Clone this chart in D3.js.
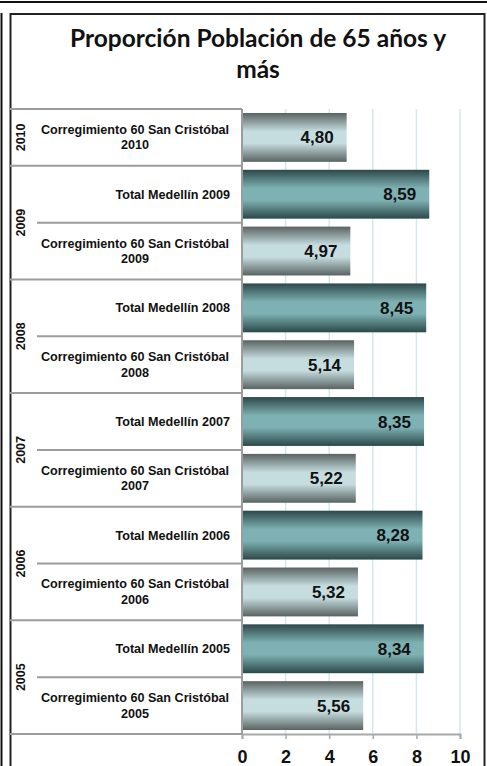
<!DOCTYPE html>
<meta charset="utf-8">
<style>
body { margin: 0; background: #fff; }
.cat { font: bold 12.6px "Liberation Sans", Arial, sans-serif; fill: #111; }
.year { font: bold 12.5px "Liberation Sans", Arial, sans-serif; fill: #111; }
.val { font: bold 17px "Liberation Sans", Arial, sans-serif; fill: #111; }
.title { font: bold 24.5px Lato, "Open Sans", sans-serif; fill: #111; }
.axis text { font: bold 18px "Liberation Sans", Arial, sans-serif; fill: #111; }
.sep { stroke: #9c9c9c; stroke-width: 2px; }
</style>
<svg width="487" height="766"></svg>
<script src="https://cdn.jsdelivr.net/npm/d3@7/dist/d3.min.js"></script>
<script>
var width = 487, height = 766;

// rows from top to bottom
var labels = [
  ["Corregimiento 60 San Cristóbal", "2010"],
  ["Total Medellín 2009"],
  ["Corregimiento 60 San Cristóbal", "2009"],
  ["Total Medellín 2008"],
  ["Corregimiento 60 San Cristóbal", "2008"],
  ["Total Medellín 2007"],
  ["Corregimiento 60 San Cristóbal", "2007"],
  ["Total Medellín 2006"],
  ["Corregimiento 60 San Cristóbal", "2006"],
  ["Total Medellín 2005"],
  ["Corregimiento 60 San Cristóbal", "2005"]
];
var series = ["correg","total","correg","total","correg","total","correg","total","correg","total","correg"];
var values = [4.80, 8.59, 4.97, 8.45, 5.14, 8.35, 5.22, 8.28, 5.32, 8.34, 5.56];
var years = ["2010", "2009", "2008", "2007", "2006", "2005"];
var yearRows = [[0, 0], [1, 2], [3, 4], [5, 6], [7, 8], [9, 10]]; // first/last row of each year
var xTicks = [0, 2, 4, 6, 8, 10];

var svg = d3.select("svg");

var es = d3.formatLocale({decimal: ",", thousands: ".", grouping: [3], currency: ["", ""]});
var fmt = es.format(".2f");

var x = d3.scaleLinear().domain([0, 10]).range([242, 460]);
var y = d3.scaleBand().domain(d3.range(values.length))
    .range([109, 734]).paddingInner(0.14).paddingOuter(0.07);

// gradients
var defs = svg.append("defs");
function grad(id, edge, mid) {
  var g = defs.append("linearGradient").attr("id", id)
      .attr("x1", 0).attr("y1", 0).attr("x2", 0).attr("y2", 1);
  g.append("stop").attr("offset", "0%").attr("stop-color", edge);
  g.append("stop").attr("offset", "38%").attr("stop-color", mid);
  g.append("stop").attr("offset", "62%").attr("stop-color", mid);
  g.append("stop").attr("offset", "100%").attr("stop-color", edge);
}
grad("g-correg", "#596361", "#c6dde0");
grad("g-total", "#2c4849", "#7eb1b3");

// outer page bits
svg.append("line").attr("x1", 0).attr("x2", width).attr("y1", 2).attr("y2", 2)
    .attr("stroke", "#111").attr("stroke-width", 2);
svg.append("line").attr("x1", 1.5).attr("x2", 1.5).attr("y1", 13).attr("y2", height)
    .attr("stroke", "#111").attr("stroke-width", 2);

// chart frame
svg.append("rect").attr("x", 10.5).attr("y", 14).attr("width", 474).attr("height", 800)
    .attr("fill", "#fff").attr("stroke", "#222").attr("stroke-width", 2);

// title
svg.append("text").attr("class", "title").attr("x", 258).attr("y", 47)
    .attr("text-anchor", "middle").text("Proporción Población de 65 años y");
svg.append("text").attr("class", "title").attr("x", 258).attr("y", 78)
    .attr("text-anchor", "middle").text("más");

// gridlines
svg.selectAll(".grid").data(xTicks.slice(1)).enter().append("line")
    .attr("x1", function(d) { return x(d); }).attr("x2", function(d) { return x(d); })
    .attr("y1", 109).attr("y2", 734)
    .attr("stroke", "#d6e7ec").attr("stroke-width", 1.5);

// bars
svg.selectAll(".bar").data(values).enter().append("rect")
    .attr("x", x(0))
    .attr("y", function(d, i) { return y(i); })
    .attr("width", function(d) { return x(d) - x(0); })
    .attr("height", y.bandwidth())
    .attr("fill", function(d, i) { return "url(#g-" + series[i] + ")"; });

svg.selectAll(".val").data(values).enter().append("text")
    .attr("class", "val")
    .attr("x", function(d) { return x(d) - 13; })
    .attr("y", function(d, i) { return y(i) + y.bandwidth() / 2 + 6; })
    .attr("text-anchor", "end")
    .text(function(d) { return fmt(d); });

// category labels
var step = y.step();
function rowTop(i) { return y(i) - y.paddingInner() * step / 2; }
labels.forEach(function(l, i) {
  var cy = rowTop(i) + step / 2;
  if (l.length === 1) {
    svg.append("text").attr("class", "cat").attr("x", 230).attr("y", cy + 4.5)
        .attr("text-anchor", "end").text(l[0]);
  } else {
    var t = svg.append("text").attr("class", "cat").attr("text-anchor", "middle");
    t.append("tspan").attr("x", 135).attr("y", cy - 3.5).text(l[0]);
    t.append("tspan").attr("x", 135).attr("y", cy + 12).text(l[1]);
  }
});

// separators
svg.append("line").attr("class", "sep").attr("x1", 10).attr("x2", 242).attr("y1", 109).attr("y2", 109);
yearRows.forEach(function(r, k) {
  var bottom = rowTop(r[1]) + step;
  svg.append("line").attr("class", "sep").attr("x1", 10).attr("x2", 242)
      .attr("y1", bottom).attr("y2", bottom);
  if (r[1] > r[0]) {
    var mid = rowTop(r[1]);
    svg.append("line").attr("class", "sep").attr("x1", 37).attr("x2", 242)
        .attr("y1", mid).attr("y2", mid);
  }
  var cy = (rowTop(r[0]) + bottom) / 2;
  svg.append("text").attr("class", "year")
      .attr("transform", "translate(25," + cy + ") rotate(-90)")
      .attr("text-anchor", "middle").text(years[k]);
});
svg.append("line").attr("class", "sep").attr("x1", 242).attr("x2", 242).attr("y1", 109).attr("y2", 734);

// x axis
var axis = svg.append("g").attr("class", "axis").attr("transform", "translate(0,734)")
    .call(d3.axisBottom(x).tickValues(xTicks).tickSize(5).tickPadding(8).tickFormat(d3.format("d")));
axis.select(".domain").attr("stroke", "#a8a8a8").attr("stroke-width", 2);
axis.selectAll(".tick line").attr("stroke", "#a8a8a8").attr("stroke-width", 1.5);
axis.selectAll(".tick text").attr("dy", "0.9em");
svg.append("line").attr("class", "sep").attr("x1", 10).attr("x2", 242).attr("y1", 734).attr("y2", 734);
</script>
